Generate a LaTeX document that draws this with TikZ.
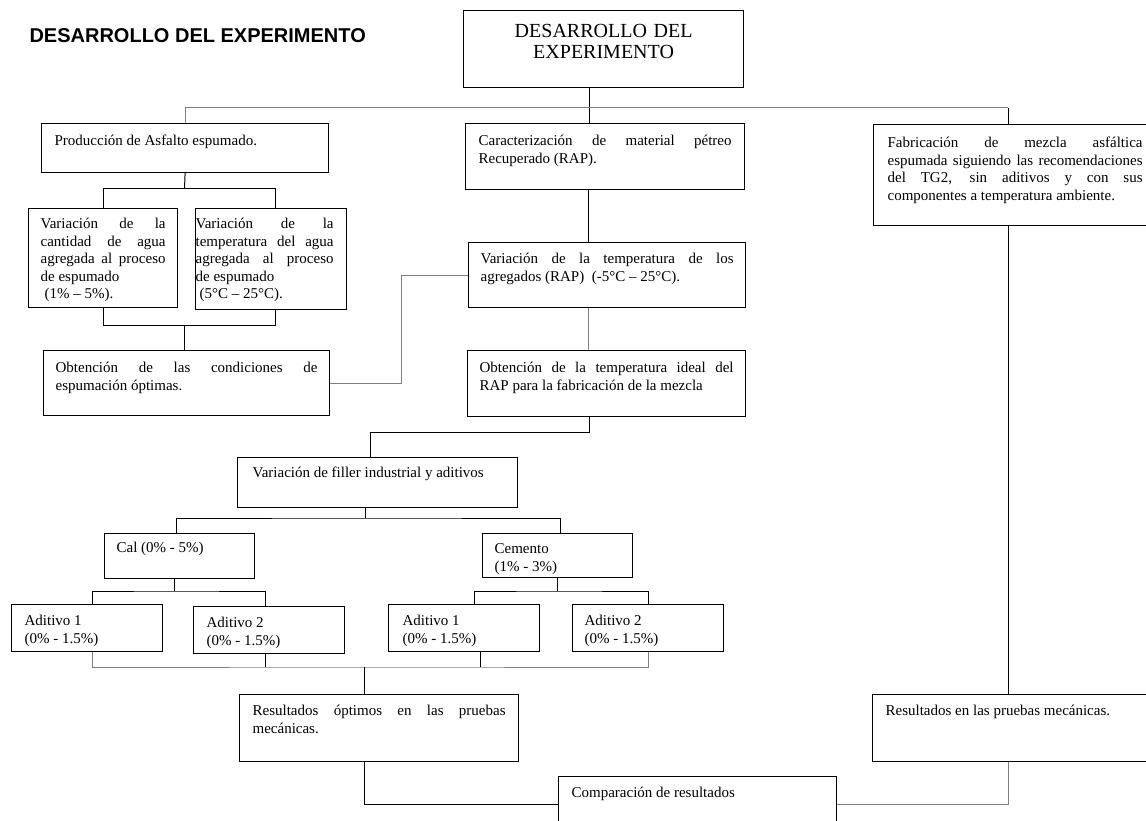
\documentclass[tikz,border=0pt]{standalone}
\usepackage{fontspec}
\setmainfont{Liberation Serif}
\newfontfamily\sansarial{Liberation Sans}
\hyphenpenalty=10000
\exhyphenpenalty=10000
\tolerance=10000

\tikzset{
  caja/.style={draw, line width=1.2pt, anchor=north west, align=justify,
    inner ysep=0pt, inner xsep=12pt, text height=22pt,
    font=\fontsize{15}{17.5}\selectfont},
  aditivo/.style={text height=21pt, text depth=26pt, text width=125pt, inner xsep=13pt},
  linea/.style={line width=1pt},
  lineagris/.style={line width=1pt, black!50}
}

\begin{document}
\begin{tikzpicture}[x=1pt,y=-1pt]
        \useasboundingbox (0,0) rectangle (1146,821);

        % Nodes
        \node[font=\sansarial\bfseries\fontsize{20}{24}\selectfont, anchor=base west] (encabezado) at (26,43) {DESARROLLO DEL EXPERIMENTO};
        \node[caja, align=center, text width=256pt, text height=27pt, text depth=50pt, font=\fontsize{20}{21}\selectfont] (titulo) at (463,10) {DESARROLLO DEL\\ EXPERIMENTO};

        \node[caja, text width=261pt, text depth=27pt, inner xsep=13pt] (prod) at (41,123) {Producción de Asfalto espumado.};
        \node[caja, text width=253pt, text depth=44pt, inner xsep=13pt] (carac) at (465,123) {Caracterización de material pétreo\linebreak Recuperado (RAP).};
        \node[caja, text width=255pt, text height=23pt, text depth=78pt, inner xsep=14pt] (fabric) at (873,124) {Fabricación de mezcla asfáltica\linebreak espumada siguiendo las recomendaciones\linebreak del TG2, sin aditivos y con sus\linebreak componentes a temperatura ambiente.};

        \node[caja, text width=125pt, text height=20pt, text depth=79pt] (varagua) at (28,208) {Variación de la\linebreak cantidad de agua\linebreak agregada al proceso\linebreak de espumado\newline\hspace*{4pt}(1\% – 5\%).};
        \node[caja, text width=151pt, text height=20pt, text depth=81pt, inner xsep=0pt] (vartemp) at (195,208) {\parbox[t]{138pt}{Variación de la\linebreak temperatura del agua\linebreak agregada al proceso\linebreak de espumado\newline\hspace*{4pt}(5°C – 25°C).}};
        \node[caja, text width=262pt, text depth=43pt] (obten) at (43,350) {Obtención de las condiciones de\linebreak espumación óptimas.};

        \node[caja, text width=253pt, text height=21pt, text depth=44pt] (vartemprap) at (468,242) {Variación de la temperatura de los\linebreak agregados (RAP)~ (-5°C – 25°C).};
        \node[caja, text width=254pt, text depth=44pt] (obtrap) at (467,350) {Obtención de la temperatura ideal del\linebreak RAP para la fabricación de la mezcla};

        \node[caja, text width=250pt, text height=20pt, text depth=30pt, inner xsep=15pt] (filler) at (237,457) {Variación de filler industrial y aditivos};
        \node[caja, text width=126pt, text height=19pt, text depth=26pt] (cal) at (104,533) {Cal (0\% - 5\%)};
        \node[caja, text width=126pt, text height=20pt, text depth=24pt] (cemento) at (482,533) {Cemento\newline (1\% - 3\%)};

        \node[caja, aditivo] (ad1l) at (11,604) {Aditivo 1\newline (0\% - 1.5\%)};
        \node[caja, aditivo] (ad2l) at (193,606) {Aditivo 2\newline (0\% - 1.5\%)};
        \node[caja, aditivo, inner xsep=14pt, text width=123pt] (ad1r) at (388,604) {Aditivo 1\newline (0\% - 1.5\%)};
        \node[caja, aditivo, inner xsep=12pt, text width=127pt] (ad2r) at (572,604) {Aditivo 2\newline (0\% - 1.5\%)};

        \node[caja, text width=253pt, text height=21pt, text depth=46pt, inner xsep=13pt] (resopt) at (239,694) {Resultados óptimos en las pruebas\linebreak mecánicas.};
        \node[caja, text width=260pt, text height=21pt, text depth=46pt, inner xsep=13pt] (resr) at (872,694) {Resultados en las pruebas mecánicas.};
        \node[caja, text width=252pt, text height=21pt, text depth=45pt, inner xsep=13pt] (comp) at (558,776) {Comparación de resultados};

        % Junctions
        \coordinate (b0) at (589,108);
        \coordinate (bC) at (1008,108);
        \coordinate (bA) at (184.5,189);
        \coordinate (cA) at (184.5,325);
        \coordinate (xA2) at (275,0);
        \coordinate (xL) at (401,0);
        \coordinate (xB) at (588,0);
        \coordinate (bF) at (589,432);
        \coordinate (xF) at (370,0);
        \coordinate (bK) at (365,518);
        \coordinate (xCal) at (176,0);
        \coordinate (xCem) at (560,0);
        \coordinate (bL) at (174,591);
        \coordinate (xL1) at (92,0);
        \coordinate (xL2) at (265,0);
        \coordinate (bR) at (557,591);
        \coordinate (xR1) at (474,0);
        \coordinate (xR2) at (648,0);
        \coordinate (xR3) at (480,0);
        \coordinate (bD) at (364,667);
        \coordinate (bE) at (364,804);
        \coordinate (xE) at (1008,0);

        % Edges
        \draw[linea] (titulo.south -| b0) -- (b0);
        \draw[lineagris] (prod.north) |- (bC);
        \draw[linea] (b0) -- (b0 |- carac.north);
        \draw[linea] (bC) -- (bC |- fabric.north);

        \draw[linea] (prod.south) -- (bA);
        \draw[linea] (varagua.north) |- (bA -| xA2) -- (xA2 |- vartemp.north);
        \draw[linea] (varagua.south) |- (cA -| xA2) -- (xA2 |- vartemp.south);
        \draw[linea] (cA) -- (cA |- obten.north);
        \draw[lineagris] (obten.east) -| (xL |- vartemprap.west) -- (vartemprap.west);

        \draw[linea] (xB |- carac.south) -- (xB |- vartemprap.north);
        \draw[lineagris] (xB |- vartemprap.south) -- (xB |- obtrap.north);
        \draw[linea] (bF |- obtrap.south) -- (bF) -| (xF |- filler.north);

        \draw[linea] (bK |- filler.south) -- (bK);
        \draw[linea] (xCal |- cal.north) |- (bK) -| (xCem |- cemento.north);
        \draw[linea] (bL |- cal.south) -- (bL);
        \draw[linea] (xL1 |- ad1l.north) |- (bL) -| (xL2 |- ad2l.north);
        \draw[linea] (bR |- cemento.south) -- (bR);
        \draw[linea] (xR1 |- ad1r.north) |- (bR) -| (xR2 |- ad2r.north);

        \draw[lineagris] (xL1 |- ad1l.south) |- (bD) -| (xR2 |- ad2r.south);
        \draw[linea] (xL2 |- ad2l.south) -- (xL2 |- bD);
        \draw[linea] (xR3 |- ad1r.south) -- (xR3 |- bD);
        \draw[linea] (bD) -- (bD |- resopt.north);

        \draw[linea] (bE |- resopt.south) -- (bE) -- (bE -| comp.west);
        \draw[linea] (xE |- fabric.south) -- (xE |- resr.north);
        \draw[lineagris] (xE |- resr.south) |- (bE -| comp.east);
    \end{tikzpicture}
\end{document}
